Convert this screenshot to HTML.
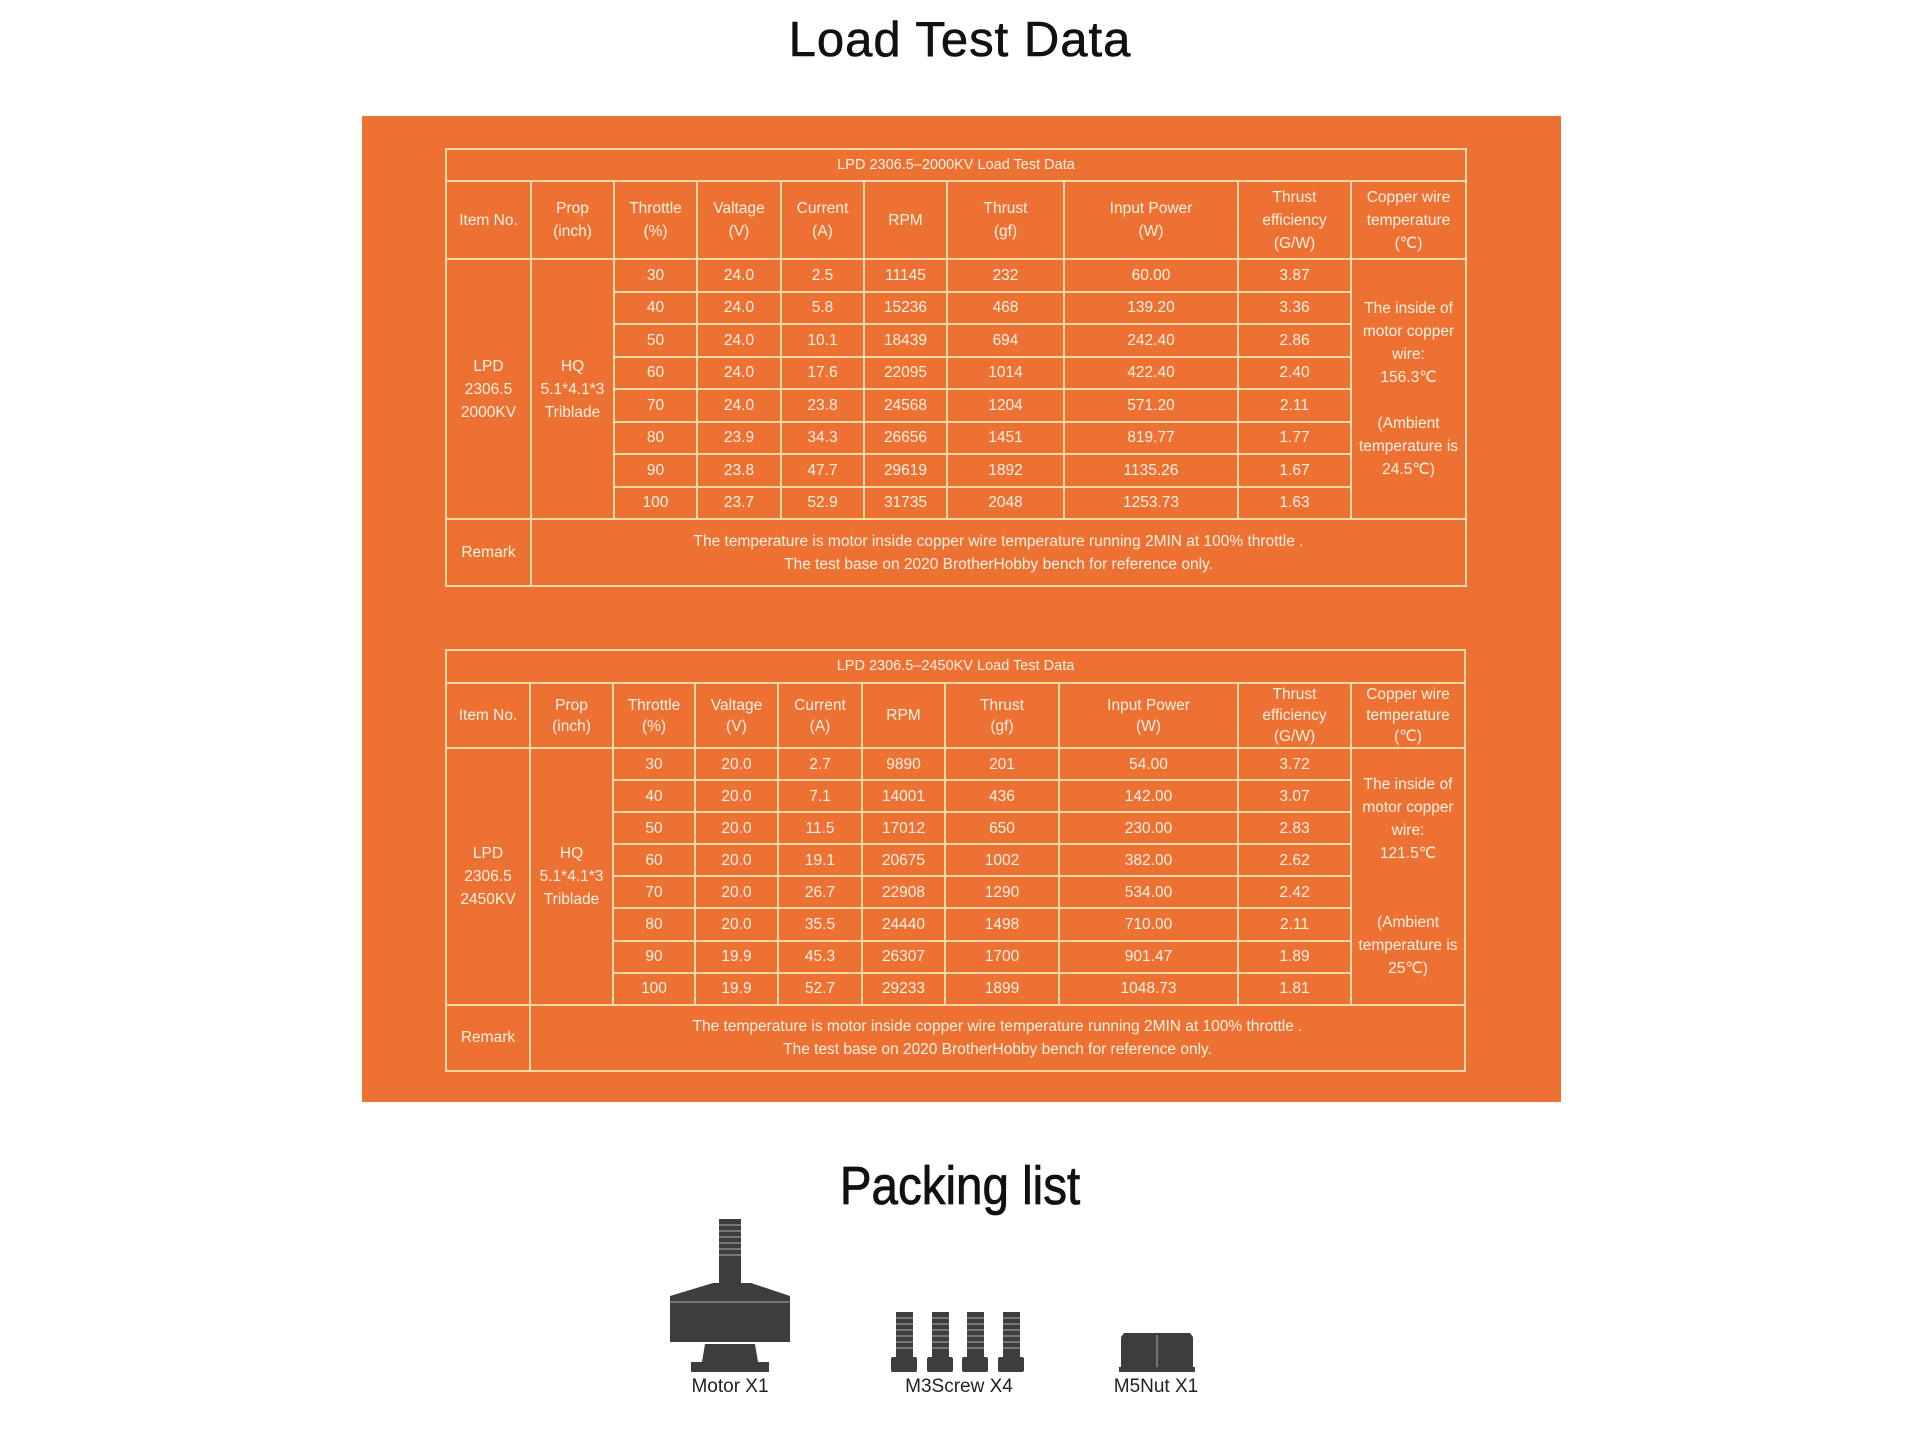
<!DOCTYPE html>
<html><head><meta charset="utf-8"><style>
*{margin:0;padding:0;box-sizing:border-box}
body{width:1920px;height:1446px;background:#fff;position:relative;overflow:hidden;font-family:"Liberation Sans",Arial,sans-serif}
.h1{position:absolute;left:0;width:1920px;text-align:center;color:#111}
#bg{position:absolute;left:362px;top:116px;width:1199px;height:986px;background:#ee7134}
table{position:absolute;border-collapse:collapse;table-layout:fixed;color:#fdf1e2;font-size:15.5px}
td{border:2px solid #f7d9a6;text-align:center;vertical-align:middle;line-height:23px;padding:0}
.hd td{line-height:21px}
.lbl{position:absolute;font-size:19px;color:#222;text-align:center;width:200px}
</style></head><body>
<div class="h1" style="top:12px;font-size:49px;letter-spacing:1px;-webkit-text-stroke:0.6px #111">Load Test Data</div>
<div id="bg"></div>

<table style="left:445px;top:148px;width:1020px">
<colgroup><col style="width:85px"><col style="width:83px"><col style="width:83px"><col style="width:84px"><col style="width:83px"><col style="width:83px"><col style="width:117px"><col style="width:174px"><col style="width:113px"><col style="width:115px"></colgroup>
<tr style="height:32px"><td colspan="10" style="font-size:14.5px">LPD 2306.5–2000KV Load Test Data</td></tr>
<tr style="height:78px"><td>Item No.</td><td>Prop<br>(inch)</td><td>Throttle<br>(%)</td><td>Valtage<br>(V)</td><td>Current<br>(A)</td><td>RPM</td><td>Thrust<br>(gf)</td><td>Input Power<br>(W)</td><td>Thrust<br>efficiency<br>(G/W)</td><td>Copper wire<br>temperature<br>(℃)</td></tr>
<tr style="height:32.5px"><td rowspan="8">LPD<br>2306.5<br>2000KV</td><td rowspan="8">HQ<br>5.1*4.1*3<br>Triblade</td><td>30</td><td>24.0</td><td>2.5</td><td>11145</td><td>232</td><td>60.00</td><td>3.87</td><td rowspan="8">The inside of<br>motor copper<br>wire:<br>156.3℃<br><br>(Ambient<br>temperature is<br>24.5℃)</td></tr>
<tr style="height:32.5px"><td>40</td><td>24.0</td><td>5.8</td><td>15236</td><td>468</td><td>139.20</td><td>3.36</td></tr>
<tr style="height:32.5px"><td>50</td><td>24.0</td><td>10.1</td><td>18439</td><td>694</td><td>242.40</td><td>2.86</td></tr>
<tr style="height:32.5px"><td>60</td><td>24.0</td><td>17.6</td><td>22095</td><td>1014</td><td>422.40</td><td>2.40</td></tr>
<tr style="height:32.5px"><td>70</td><td>24.0</td><td>23.8</td><td>24568</td><td>1204</td><td>571.20</td><td>2.11</td></tr>
<tr style="height:32.5px"><td>80</td><td>23.9</td><td>34.3</td><td>26656</td><td>1451</td><td>819.77</td><td>1.77</td></tr>
<tr style="height:32.5px"><td>90</td><td>23.8</td><td>47.7</td><td>29619</td><td>1892</td><td>1135.26</td><td>1.67</td></tr>
<tr style="height:32.5px"><td>100</td><td>23.7</td><td>52.9</td><td>31735</td><td>2048</td><td>1253.73</td><td>1.63</td></tr>
<tr style="height:67px"><td>Remark</td><td colspan="9">The temperature is motor inside copper wire temperature running 2MIN at 100% throttle .<br>The test base on 2020 BrotherHobby bench for reference only.</td></tr>
</table>

<table style="left:445px;top:649px;width:1019px">
<colgroup><col style="width:84px"><col style="width:83px"><col style="width:82px"><col style="width:83px"><col style="width:84px"><col style="width:83px"><col style="width:114px"><col style="width:179px"><col style="width:113px"><col style="width:114px"></colgroup>
<tr style="height:33px"><td colspan="10" style="font-size:14.5px">LPD 2306.5–2450KV Load Test Data</td></tr>
<tr class="hd" style="height:64px"><td>Item No.</td><td>Prop<br>(inch)</td><td>Throttle<br>(%)</td><td>Valtage<br>(V)</td><td>Current<br>(A)</td><td>RPM</td><td>Thrust<br>(gf)</td><td>Input Power<br>(W)</td><td>Thrust<br>efficiency<br>(G/W)</td><td>Copper wire<br>temperature<br>(℃)</td></tr>
<tr style="height:32.1px"><td rowspan="8">LPD<br>2306.5<br>2450KV</td><td rowspan="8">HQ<br>5.1*4.1*3<br>Triblade</td><td>30</td><td>20.0</td><td>2.7</td><td>9890</td><td>201</td><td>54.00</td><td>3.72</td><td rowspan="8">The inside of<br>motor copper<br>wire:<br>121.5℃<br><br><br>(Ambient<br>temperature is<br>25℃)</td></tr>
<tr style="height:32.1px"><td>40</td><td>20.0</td><td>7.1</td><td>14001</td><td>436</td><td>142.00</td><td>3.07</td></tr>
<tr style="height:32.1px"><td>50</td><td>20.0</td><td>11.5</td><td>17012</td><td>650</td><td>230.00</td><td>2.83</td></tr>
<tr style="height:32.1px"><td>60</td><td>20.0</td><td>19.1</td><td>20675</td><td>1002</td><td>382.00</td><td>2.62</td></tr>
<tr style="height:32.1px"><td>70</td><td>20.0</td><td>26.7</td><td>22908</td><td>1290</td><td>534.00</td><td>2.42</td></tr>
<tr style="height:32.1px"><td>80</td><td>20.0</td><td>35.5</td><td>24440</td><td>1498</td><td>710.00</td><td>2.11</td></tr>
<tr style="height:32.1px"><td>90</td><td>19.9</td><td>45.3</td><td>26307</td><td>1700</td><td>901.47</td><td>1.89</td></tr>
<tr style="height:32.1px"><td>100</td><td>19.9</td><td>52.7</td><td>29233</td><td>1899</td><td>1048.73</td><td>1.81</td></tr>
<tr style="height:66px"><td>Remark</td><td colspan="9">The temperature is motor inside copper wire temperature running 2MIN at 100% throttle .<br>The test base on 2020 BrotherHobby bench for reference only.</td></tr>
</table>

<div class="h1" style="top:1155px;font-size:54px;transform:scaleX(0.88);-webkit-text-stroke:0.8px #111">Packing list</div>

<svg style="position:absolute;left:0;top:0" width="1920" height="1446">
<g fill="#3d3d3d">
<rect x="719" y="1219" width="22" height="64"/>
<path d="M713 1283 L751 1283 L790 1296 L670 1296 Z"/>
<rect x="670" y="1296" width="120" height="46"/>
<path d="M705 1344 L755 1344 L758 1362 L702 1362 Z"/>
<rect x="691" y="1362" width="78" height="10"/>
<rect x="891" y="1357" width="26" height="15" rx="2"/>
<rect x="927" y="1357" width="26" height="15" rx="2"/>
<rect x="962" y="1357" width="26" height="15" rx="2"/>
<rect x="998" y="1357" width="26" height="15" rx="2"/>
<rect x="896" y="1312" width="17" height="46"/>
<rect x="932" y="1312" width="17" height="46"/>
<rect x="967" y="1312" width="17" height="46"/>
<rect x="1003" y="1312" width="17" height="46"/>
<path d="M1124 1333 L1190 1333 L1193 1337 L1193 1367 L1121 1367 L1121 1337 Z"/>
<rect x="1119" y="1367" width="76" height="5"/>
</g>
<g stroke="#aaa" stroke-width="1">
<line x1="670" y1="1302" x2="790" y2="1302"/>
<line x1="1157" y1="1335" x2="1157" y2="1367"/>
</g>
<g stroke="#999" stroke-width="1.2">
<path d="M719 1225h22M719 1231h22M719 1237h22M719 1243h22M719 1249h22M719 1255h22"/>
<path d="M896 1318h17M896 1324h17M896 1330h17M896 1336h17M896 1342h17M896 1348h17"/>
<path d="M932 1318h17M932 1324h17M932 1330h17M932 1336h17M932 1342h17M932 1348h17"/>
<path d="M967 1318h17M967 1324h17M967 1330h17M967 1336h17M967 1342h17M967 1348h17"/>
<path d="M1003 1318h17M1003 1324h17M1003 1330h17M1003 1336h17M1003 1342h17M1003 1348h17"/>
</g>
</svg>
<div class="lbl" style="left:630px;top:1376px">Motor X1</div>
<div class="lbl" style="left:859px;top:1376px">M3Screw X4</div>
<div class="lbl" style="left:1056px;top:1376px">M5Nut X1</div>
</body></html>
